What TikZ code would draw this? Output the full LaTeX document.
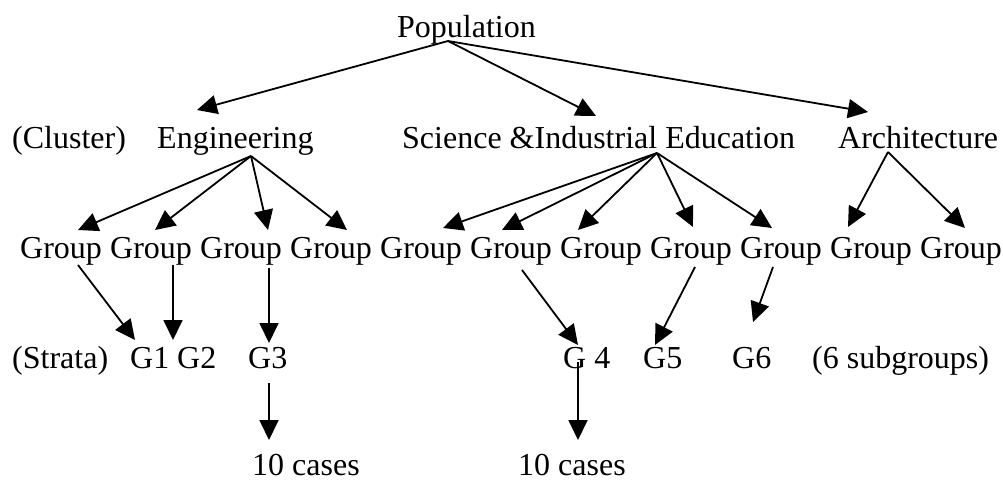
\documentclass[tikz,border=0pt]{standalone}
\usepackage{fontspec}
\setmainfont{Liberation Serif}
\usetikzlibrary{arrows.meta}
\begin{document}
\begin{tikzpicture}[x=1pt,y=-1pt,
  lbl/.style={anchor=base west,inner sep=0pt,font=\fontsize{32}{38}\selectfont},
  arr/.style={-{Triangle[length=20pt,width=19pt]},line width=1.8pt}]
\useasboundingbox (0,0) rectangle (1003,480);
% texts
\node[lbl] (pop) at (397,37) {Population};
\node[lbl] (clu) at (12,148) {(Cluster)};
\node[lbl] (eng) at (157,148) {Engineering};
\node[lbl] (sci) at (402,148) {Science \&Industrial Education};
\node[lbl] (arc) at (838,148) {Architecture};
\foreach \k in {0,...,10} \node[lbl] (g\k) at ({20+90*\k},258) {Group};
\node[lbl] (str) at (12,368) {(Strata)};
\node[lbl] (s1) at (130,368) {G1};
\node[lbl] (s2) at (177,368) {G2};
\node[lbl] (s3) at (248,368) {G3};
\node[lbl] (s4) at (563,368) {G 4};
\node[lbl] (s5) at (643,368) {G5};
\node[lbl] (s6) at (732,368) {G6};
\node[lbl] (sub) at (812,368) {(6 subgroups)};
\node[lbl] (c1) at (252,475) {10 cases};
\node[lbl] (c2) at (518,475) {10 cases};
% arrow origins and tips
\coordinate (popo) at (448,41);
\coordinate (engt) at (197,110);
\coordinate (scit) at (596,116);
\coordinate (arct) at (868,112);
\coordinate (engo) at (251,156);
\coordinate (scio) at (657,153);
\coordinate (arco) at (888,152);
\coordinate (g0t) at (78,230);
\coordinate (g1t) at (155,230);
\coordinate (g2t) at (268,230);
\coordinate (g3t) at (347,230);
\coordinate (g4t) at (443,228);
\coordinate (g5t) at (502,230);
\coordinate (g6t) at (578,230);
\coordinate (g7t) at (693,227);
\coordinate (g8t) at (772,228);
\coordinate (g9t) at (848,227);
\coordinate (g10t) at (965,228);
\coordinate (g0o) at (78,265);
\coordinate (s1t) at (135,340);
\coordinate (g1o) at (173,265);
\coordinate (s2t) at (173,340);
\coordinate (g2o) at (269,268);
\coordinate (s3t) at (269,343);
\coordinate (s3o) at (269,383);
\coordinate (c1t) at (269,440);
\coordinate (g5o) at (522,270);
\coordinate (s4t) at (578,345);
\coordinate (g7o) at (695,267);
\coordinate (s5t) at (655,345);
\coordinate (g8o) at (773,267);
\coordinate (s6t) at (753,322);
\coordinate (s4o) at (578,362);
\coordinate (c2t) at (578,440);
% connectors
\draw[arr] (popo) -- (engt);
\draw[arr] (popo) -- (scit);
\draw[arr] (popo) -- (arct);
\foreach \t in {g0t,g1t,g2t,g3t} \draw[arr] (engo) -- (\t);
\foreach \t in {g4t,g5t,g6t,g7t,g8t} \draw[arr] (scio) -- (\t);
\foreach \t in {g9t,g10t} \draw[arr] (arco) -- (\t);
\draw[arr] (g0o) -- (s1t);
\draw[arr] (g1o) -- (s2t);
\draw[arr] (g2o) -- (s3t);
\draw[arr] (s3o) -- (c1t);
\draw[arr] (g5o) -- (s4t);
\draw[arr] (g7o) -- (s5t);
\draw[arr] (g8o) -- (s6t);
\draw[arr] (s4o) -- (c2t);
\end{tikzpicture}
\end{document}
